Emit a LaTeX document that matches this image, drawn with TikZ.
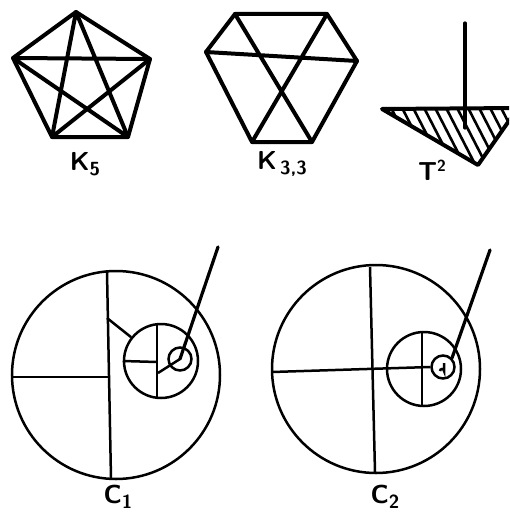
\documentclass[tikz,border=0pt]{standalone}
\begin{document}
\begin{tikzpicture}[x=1pt,y=-1pt,
  edge/.style={line width=4pt,line cap=round,line join=round},
  ring/.style={line width=2.5pt},
  thin/.style={line width=3.2pt,line cap=round},
  lbl/.style={font=\fontsize{26}{26}\selectfont\sffamily\bfseries,inner sep=0pt},
  hatch/.style={line width=2.6pt}]
\newcommand{\lab}[2]{#1\raisebox{-5pt}{\fontsize{19}{19}\selectfont #2}}
\useasboundingbox (0,0) rectangle (509,524);
\clip (0,0) rectangle (509,524);
% K5
\coordinate (a1) at (76,12);
\coordinate (a2) at (150,59);
\coordinate (a3) at (128,137);
\coordinate (a4) at (52,137);
\coordinate (a5) at (13,58);
\draw[edge] (a1)--(a2)--(a3)--(a4)--(a5)--cycle;
\draw[edge] (a1)--(a3) (a1)--(a4) (a2)--(a4) (a2)--(a5) (a3)--(a5);
\node[lbl] (k5) at (85,164) {\lab{K}{5}};
% K33
\coordinate (b1) at (235,14);
\coordinate (b2) at (327,14);
\coordinate (b3) at (357,61);
\coordinate (b4) at (312,142);
\coordinate (b5) at (252,142);
\coordinate (b6) at (206,52);
\draw[edge] (b1)--(b2)--(b3)--(b4)--(b5)--(b6)--cycle;
\draw[edge] (b6)--(b3) (b1)--(b4) (b2)--(b5);
\node[lbl] (k33) at (282,164) {\lab{K}{\,3,3}};
% T2
\coordinate (t1) at (382,109);
\coordinate (t2) at (518,108);
\coordinate (t3) at (478,165);
\coordinate (ttop) at (465,23);
\coordinate (tbot) at (465,128);
\begin{scope}
  \clip (t1)--(t2)--(t3)--cycle;
  \foreach \i in {0,...,13} {
    \draw[hatch] (376+\i*11,100) -- ++(36,70);
  }
\end{scope}
\draw[edge] (t1)--(t2)--(t3)--cycle;
\draw[thin] (ttop)--(tbot);
\node[lbl,anchor=base] (t2l) at (432,180) {T\raisebox{9pt}{\fontsize{16}{16}\selectfont 2}};
% C1
\node[ring,draw,circle,minimum size=208pt,inner sep=0pt] (c1) at (116,375) {};
\coordinate (c1t) at (107,272);
\coordinate (c1b) at (111,479);
\coordinate (c1l) at (12,377);
\coordinate (c1m) at (108,377);
\coordinate (c1k) at (107,318);
\draw[ring] (c1t)--(c1b);
\draw[ring] (c1l)--(c1m);
\node[ring,draw,circle,minimum size=74pt,inner sep=0pt] (i1) at (161,361) {};
\draw[ring] (c1k)--(i1);
\draw[ring] (i1.north -| 157,0) coordinate (i1t) -- (i1.south -| 157,0);
\draw[ring] (i1.west) -- (157,362) coordinate (i1m);
\node[ring,draw,circle,minimum size=23pt,inner sep=0pt] (s1) at (180,359) {};
\draw[ring] (s1.center) -- (158,373) coordinate (s1e);
\coordinate (p1) at (218,247);
\draw[thin] (p1) -- (s1.center);
\node[lbl] (c1lab) at (118,497) {\lab{C}{1}};
% C2
\node[ring,draw,circle,minimum size=208pt,inner sep=0pt] (c2) at (376,369) {};
\coordinate (c2t) at (370,267);
\coordinate (c2b) at (375,472);
\coordinate (c2l) at (272,372);
\draw[ring] (c2t)--(c2b);
\node[ring,draw,circle,minimum size=74pt,inner sep=0pt] (i2) at (424,369) {};
\node[ring,draw,circle,minimum size=23pt,inner sep=0pt] (s2) at (443,367) {};
\draw[ring] (c2l) -- (s2.west);
\draw[ring] (i2.north -| 422,0) -- (i2.south -| 422,0);
\draw[ring] (s2.center) ++(-3,4) arc (180:360:2) -- ++(0,-8);
\coordinate (p2) at (490,250);
\draw[thin] (p2) -- (s2.north east);
\node[lbl] (c2lab) at (385,497) {\lab{C}{2}};
\end{tikzpicture}
\end{document}
